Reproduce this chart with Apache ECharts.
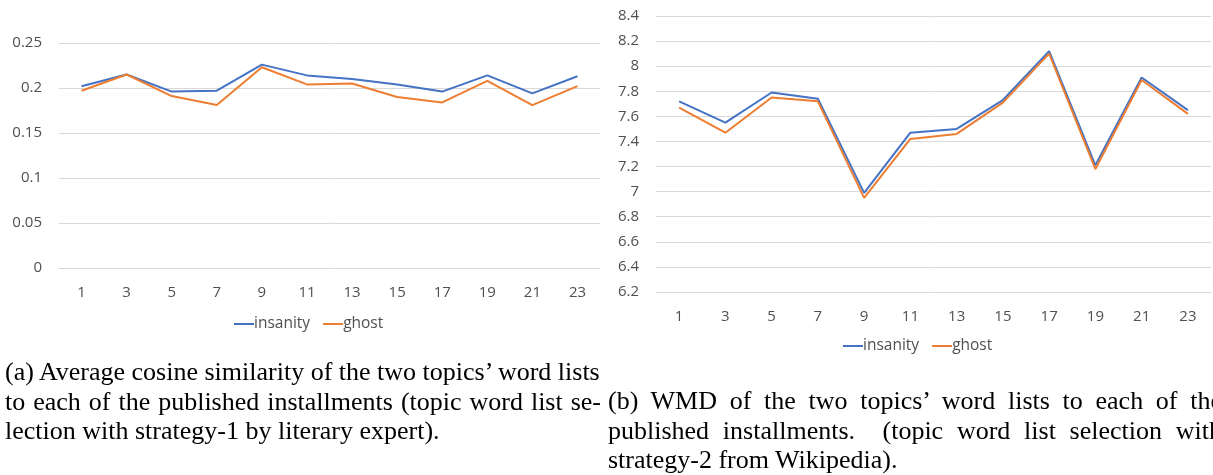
<!DOCTYPE html>
<html>
<head>
<meta charset="utf-8">
<script src="https://cdn.jsdelivr.net/npm/echarts@6/dist/echarts.min.js"></script>
<style>
  html, body { margin: 0; padding: 0; background: #fff; overflow: hidden; }
  #wrap { position: relative; width: 1213px; height: 475px; overflow: hidden; }
  #chart { position: absolute; left: 0; top: 0; width: 1213px; height: 475px; }
  .cap {
    position: absolute;
    font-family: 'Liberation Serif', 'DejaVu Serif', serif;
    font-size: 26px;
    line-height: 29.5px;
    color: #000;
    white-space: nowrap;
  }
  .cap div { text-align: justify; text-align-last: justify; }
  .cap div.last { text-align-last: left; }
</style>
</head>
<body>
<div id="wrap">
  <div id="chart"></div>
  <div class="cap" style="left:5px; top:357px; width:596px;">
    <div class="last">(a) Average cosine similarity of the two topics’ word lists</div>
    <div>to each of the published installments (topic word list se-</div>
    <div class="last">lection with strategy-1 by literary expert).</div>
  </div>
  <div class="cap" style="left:608px; top:386px; width:614px;">
    <div>(b) WMD of the two topics’ word lists to each of the</div>
    <div>published installments. &nbsp;(topic word list selection with</div>
    <div class="last">strategy-2 from Wikipedia).</div>
  </div>
</div>
<script>
// installments on the x axis
const installments = ['1', '3', '5', '7', '9', '11', '13', '15', '17', '19', '21', '23']

// (a) average cosine similarity
const cosInsanity = [0.202, 0.215, 0.196, 0.197, 0.226, 0.214, 0.210, 0.204, 0.196, 0.214, 0.194, 0.213]
const cosGhost = [0.197, 0.215, 0.191, 0.181, 0.223, 0.204, 0.205, 0.190, 0.184, 0.208, 0.181, 0.202]

// (b) WMD
const wmdInsanity = [7.72, 7.55, 7.79, 7.74, 6.99, 7.47, 7.50, 7.73, 8.12, 7.21, 7.91, 7.65]
const wmdGhost = [7.67, 7.47, 7.75, 7.72, 6.95, 7.42, 7.46, 7.71, 8.10, 7.18, 7.89, 7.62]

const BLUE = '#4472c4'
const ORANGE = '#ed7d31'
const FONT = "'Open Sans', sans-serif"
const LABEL = '#505050'

const chart = echarts.init(document.getElementById('chart'))

function xAxisFor(idx) {
  return {
    type: 'category',
    gridIndex: idx,
    data: installments,
    boundaryGap: true,
    axisLine: { show: true, lineStyle: { color: '#d9d9d9', width: 1 } },
    axisTick: { show: false },
    axisLabel: { color: LABEL, fontFamily: FONT, fontSize: 15, margin: 17 }
  }
}

function yAxisFor(idx, min, max, step) {
  return {
    type: 'value',
    gridIndex: idx,
    min: min,
    max: max,
    interval: step,
    axisLine: { show: false },
    axisTick: { show: false },
    splitLine: { lineStyle: { color: '#d9d9d9', width: 1 } },
    axisLabel: { color: LABEL, fontFamily: FONT, fontSize: 15, margin: 17 }
  }
}

function lineSeries(name, data, color, idx) {
  return {
    name: name,
    type: 'line',
    xAxisIndex: idx,
    yAxisIndex: idx,
    data: data,
    symbol: 'none',
    smooth: false,
    lineStyle: { color: color, width: 2 },
    itemStyle: { color: color },
    animation: false
  }
}

function legendFor(idx, left, top) {
  return {
    left: left,
    top: top,
    orient: 'horizontal',
    icon: 'rect',
    itemWidth: 20,
    itemHeight: 2,
    itemGap: 13,
    padding: 0,
    data: [
      { name: 'insanity', itemStyle: { color: BLUE } },
      { name: 'ghost', itemStyle: { color: ORANGE } }
    ],
    selectedMode: false,
    textStyle: { color: LABEL, fontFamily: FONT, fontSize: 15.5, padding: [0, 0, 0, -5] }
  }
}

chart.setOption({
  backgroundColor: '#fff',
  animation: false,
  grid: [
    { left: 59, right: 613, top: 43, bottom: 207 },
    { left: 656, right: 2, top: 16, bottom: 183 }
  ],
  legend: [legendFor(0, 234, 316), legendFor(1, 843, 338)],
  xAxis: [xAxisFor(0), xAxisFor(1)],
  yAxis: [yAxisFor(0, 0, 0.25, 0.05), yAxisFor(1, 6.2, 8.4, 0.2)],
  series: [
    lineSeries('insanity', cosInsanity, BLUE, 0),
    lineSeries('ghost', cosGhost, ORANGE, 0),
    lineSeries('insanity', wmdInsanity, BLUE, 1),
    lineSeries('ghost', wmdGhost, ORANGE, 1)
  ]
})
</script>
</body>
</html>
